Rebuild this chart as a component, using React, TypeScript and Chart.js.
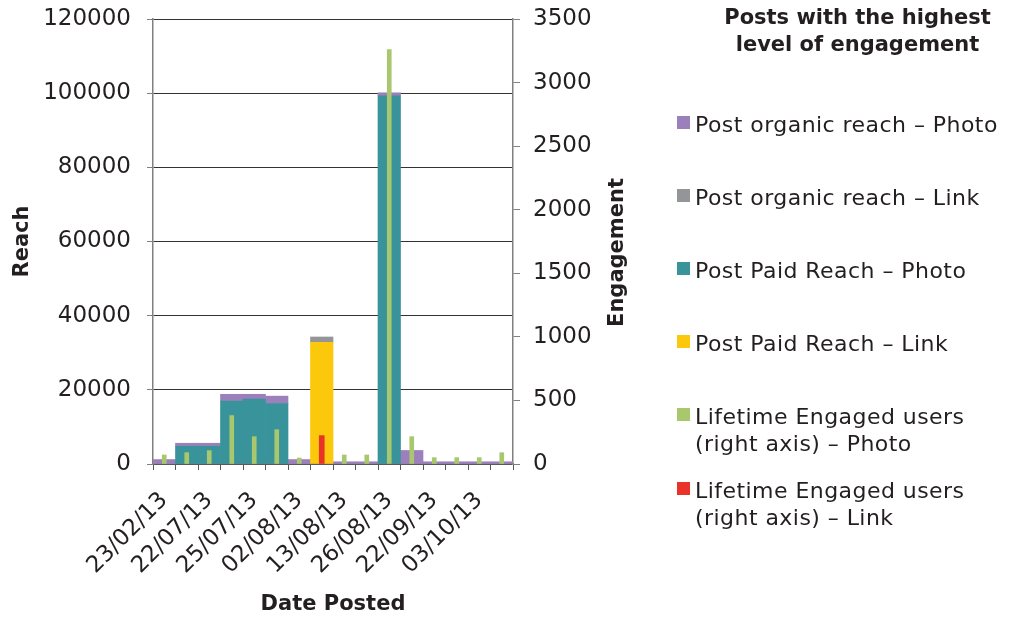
import React, { useEffect, useRef } from "react";
import { Chart, registerables } from "chart.js";

Chart.register(...registerables);

const categories = [
  "23/02/13", "", "22/07/13", "", "25/07/13", "", "02/08/13", "",
  "13/08/13", "", "26/08/13", "", "22/09/13", "", "03/10/13", "",
];

// Reach (left axis)
const paidReachPhoto = [null, 4800, 4800, 17000, 17500, 16300, null, null, null, null, 99300, null, null, null, null, null];
const paidReachLink = [null, null, null, null, null, null, null, 32800, null, null, null, null, null, null, null, null];
const organicReachPhoto = [1200, 800, 800, 1800, 1300, 2000, 1200, null, 600, 600, 800, 3650, 600, 600, 600, 600];
const organicReachLink = [null, null, null, null, null, null, null, 1450, null, null, null, null, null, null, null, null];

// Engagement (right axis)
const engagedPhoto = [71, 89, 105, 381, 215, 270, 47, null, 71, 71, 3260, 215, 50, 50, 50, 89];
const engagedLink = [null, null, null, null, null, null, null, 223, null, null, null, null, null, null, null, null];

const legendTitle = ["Posts with the highest", "level of engagement"];
const legendItems = [
  { color: "#9b80bb", lines: ["Post organic reach – Photo"] },
  { color: "#939598", lines: ["Post organic reach – Link"] },
  { color: "#38939a", lines: ["Post Paid Reach – Photo"] },
  { color: "#fcc80c", lines: ["Post Paid Reach – Link"] },
  { color: "#a9c76c", lines: ["Lifetime Engaged users", "(right axis) – Photo"] },
  { color: "#e8322a", lines: ["Lifetime Engaged users", "(right axis) – Link"] },
];

const FONT = "'DejaVu Sans', sans-serif";

export default function App() {
  const ref = useRef<HTMLCanvasElement | null>(null);

  useEffect(() => {
    document.body.style.margin = "0";
    Chart.defaults.font.family = FONT;
    const titlePlugin = {
      id: "rightTitle",
      afterDraw(chart: any) {
        const ctx = chart.ctx;
        ctx.save();
        ctx.font = `bold 21px ${FONT}`;
        ctx.fillStyle = "#231f20";
        ctx.textAlign = "center";
        ctx.textBaseline = "middle";
        ctx.translate(chart.chartArea.right + 105, (chart.chartArea.top + chart.chartArea.bottom) / 2 + 11);
        ctx.rotate(-Math.PI / 2);
        ctx.fillText("Engagement", 0, 0);
        ctx.restore();
      },
    };
    const plain = (v: any) => String(v);
    const reachBar = { xAxisID: "x", yAxisID: "y", stack: "all", categoryPercentage: 1, barPercentage: 1, order: 1 };
    const engBar = { xAxisID: "x", yAxisID: "y2", stack: "all", order: 0 };
    const chart = new Chart(ref.current as HTMLCanvasElement, {
      type: "bar",
      data: {
        labels: categories,
        datasets: [
          { label: "Lifetime Engaged users (right axis) - Photo", data: engagedPhoto as any, backgroundColor: "#a9c76c", barThickness: 4, ...engBar },
          { label: "Lifetime Engaged users (right axis) - Link", data: engagedLink as any, backgroundColor: "#e8322a", barThickness: 5, ...engBar },
          { label: "Post Paid Reach - Photo", data: paidReachPhoto as any, backgroundColor: "#38939a", ...reachBar },
          { label: "Post Paid Reach - Link", data: paidReachLink as any, backgroundColor: "#fcc80c", ...reachBar },
          { label: "Post organic reach - Photo", data: organicReachPhoto as any, backgroundColor: "#9b80bb", ...reachBar },
          { label: "Post organic reach - Link", data: organicReachLink as any, backgroundColor: "#939598", ...reachBar },
        ],
      },
      options: {
        responsive: false,
        animation: false,
        layout: { padding: { top: 19, right: 370, bottom: 0, left: 0 } },
        plugins: { legend: { display: false }, tooltip: { enabled: false } },
        scales: {
          x: {
            stacked: true,
            offset: true,
            border: { color: "#808080", width: 1.5 },
            grid: { display: true, drawOnChartArea: false, tickLength: 6, tickColor: "#555", offset: true },
            ticks: { autoSkip: false, maxRotation: 45, minRotation: 45, color: "#231f20", font: { size: 23 }, padding: 17 },
            title: { display: true, text: "Date Posted", color: "#231f20", font: { size: 21, weight: "bold" }, padding: { top: 0, bottom: 0 } },
            afterFit(scale: any) { scale.height = 153; },
          },
          y: {
            stacked: true,
            min: 0,
            max: 120000,
            position: "left",
            border: { color: "#808080", width: 1.5 },
            grid: { color: "#333", lineWidth: 1, tickLength: 6, tickColor: "#808080" },
            ticks: { stepSize: 20000, color: "#231f20", font: { size: 23 }, padding: 16, callback: plain },
            title: { display: true, text: "Reach", color: "#231f20", font: { size: 21, weight: "bold" }, padding: { top: 10, bottom: 0 } },
            afterFit(scale: any) { scale.width = 153; scale.paddingTop = 0; scale.paddingBottom = 0; },
          },
          y2: {
            stacked: true,
            min: 0,
            max: 3500,
            position: "right",
            border: { color: "#808080", width: 1.5 },
            grid: { drawOnChartArea: false, tickLength: 7, tickColor: "#808080" },
            ticks: { stepSize: 500, color: "#231f20", font: { size: 23 }, padding: 13, callback: plain },
            afterFit(scale: any) { scale.width = 130; scale.paddingTop = 0; scale.paddingBottom = 0; },
          },
        },
      },
      plugins: [titlePlugin],
    } as any);
    return () => chart.destroy();
  }, []);

  const itemTops = [111, 184, 257, 330, 403, 477];

  return (
    <div style={{ position: "relative", width: 1013, height: 617, background: "#fff", fontFamily: FONT, color: "#231f20" }}>
      <canvas ref={ref} width={1013} height={617} style={{ position: "absolute", left: 0, top: 0 }} />
      <div style={{ position: "absolute", left: 700, width: 315, top: 4, textAlign: "center", fontWeight: "bold", fontSize: 21, lineHeight: "27px" }}>
        {legendTitle.map((t, i) => (<div key={i}>{t}</div>))}
      </div>
      {legendItems.map((it, i) => (
        <div key={i} style={{ position: "absolute", left: 677, top: itemTops[i], display: "flex", alignItems: "flex-start" }}>
          <div style={{ width: 13, height: 13, background: it.color, marginTop: 5, marginRight: 5 }} />
          <div style={{ fontSize: 22, lineHeight: "27px", whiteSpace: "nowrap", letterSpacing: "0.45px" }}>
            {it.lines.map((l, j) => (<div key={j}>{l}</div>))}
          </div>
        </div>
      ))}
    </div>
  );
}
